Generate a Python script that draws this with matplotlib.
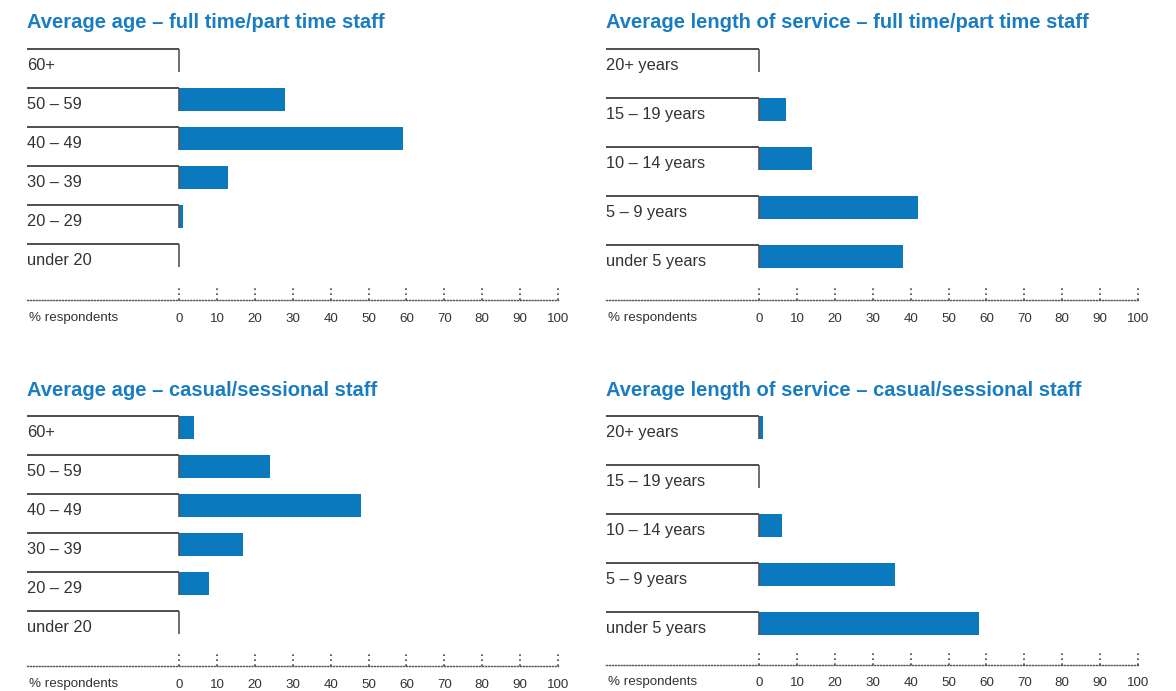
import numpy as np
import matplotlib.pyplot as plt
from matplotlib import transforms

plt.rcParams['font.family'] = ['Liberation Sans', 'DejaVu Sans']

# categories, top row first
age_labels = ['60+', '50 – 59', '40 – 49', '30 – 39', '20 – 29', 'under 20']
service_labels = ['20+ years', '15 – 19 years', '10 – 14 years', '5 – 9 years', 'under 5 years']

# % respondents
age_fulltime = [0, 28, 59, 13, 1, 0]
age_casual = [4, 24, 48, 17, 8, 0]
service_fulltime = [0, 7, 14, 42, 38]
service_casual = [1, 0, 6, 36, 58]

ticks = list(range(0, 101, 10))

BLUE = '#0b79bd'
TITLE_BLUE = '#1a7dc2'
TEXT = '#333333'
W, H = 1176, 691
UNIT = 3.79  # pixels per percentage point

fig = plt.figure(figsize=(W / 100, H / 100), dpi=100)


def panel(title, labels, values, left, zero, title_y, row_top, step, base):
    x0 = -(zero - left) / UNIT
    right = zero + 100 * UNIT
    top = row_top - 12
    ax = fig.add_axes([left / W, 1 - base / H, (right - left) / W, (base - top) / H])
    c0 = row_top + 11.5
    ax.set_xlim(x0, 100)
    ax.set_ylim((base - c0) / step, (top - c0) / step)

    bar_h = 23 / step
    y = np.arange(len(labels))
    ax.barh(y, values, height=bar_h, color=BLUE, linewidth=0, zorder=2)
    ax.hlines(y - bar_h / 2, x0, 0, color='#1e1e1e', lw=1.1, zorder=3)
    ax.vlines(np.zeros(len(y)), y - bar_h / 2, y + bar_h / 2, color='#555555',
              lw=1.2, zorder=3)
    for yi, lab in zip(y, labels):
        ax.annotate(lab, xy=(x0, yi), xytext=(0, -6.8), textcoords='offset points',
                    ha='left', va='baseline', fontsize=11.8, color=TEXT)

    # dotted baseline and dotted tick marks
    for s in ['top', 'right', 'left']:
        ax.spines[s].set_visible(False)
    ax.spines['bottom'].set_linestyle((0, (0.7, 1.4)))
    ax.spines['bottom'].set_color('#555555')
    ax.spines['bottom'].set_linewidth(1)
    trans = transforms.blended_transform_factory(ax.transData, ax.transAxes)
    ax.vlines(ticks, 0.1 / (base - top), 15 / (base - top), transform=trans,
              color='#444444', lw=1.2, linestyles=[(0, (1, 2))], clip_on=False)
    ax.set_yticks([])
    ax.set_xticks(ticks)
    ax.tick_params(axis='x', length=0, pad=9, labelsize=9.6, labelcolor=TEXT)
    ax.annotate('% respondents', xy=(x0, 0), xycoords=trans, xytext=(2, -17.5),
                textcoords='offset pixels', ha='left', va='center', fontsize=9.6,
                color=TEXT)

    fig.text(left / W, 1 - title_y / H, title, ha='left', va='center',
             fontsize=14.5, fontweight='bold', color=TITLE_BLUE)
    return ax


panel('Average age – full time/part time staff', age_labels, age_fulltime,
      27, 179, 22, 49, 39, 300)
panel('Average length of service – full time/part time staff', service_labels,
      service_fulltime, 606, 759, 22, 49, 49, 300)
panel('Average age – casual/sessional staff', age_labels, age_casual,
      27, 179, 391, 416, 39, 666)
panel('Average length of service – casual/sessional staff', service_labels,
      service_casual, 606, 759, 391, 416, 49, 665)

fig.savefig('out.png', dpi=100)
